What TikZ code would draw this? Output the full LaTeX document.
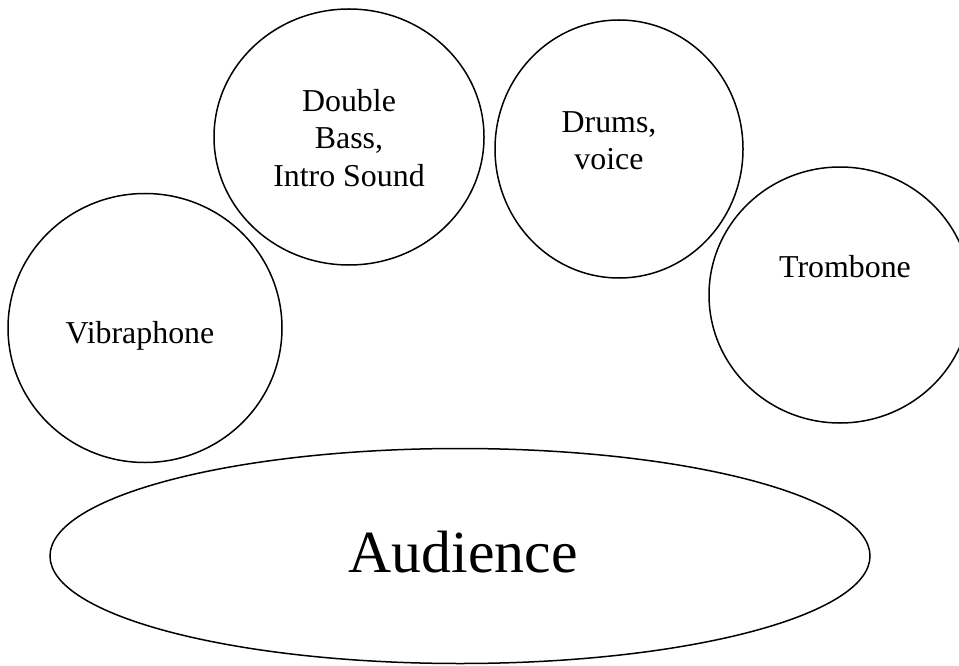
\documentclass[tikz,border=0pt]{standalone}
\usepackage{fontspec}
\setmainfont{Liberation Serif}
\usetikzlibrary{shapes.geometric}
\begin{document}
\begin{tikzpicture}[x=1bp,y=-1bp,
  stagering/.style={draw=black, line width=1.5bp, ellipse, inner sep=0pt},
  lbl/.style={font=\fontsize{32}{37.5}\selectfont, align=center, inner sep=0pt},
  biglbl/.style={font=\fontsize{60}{70}\selectfont, inner sep=0pt}]
\useasboundingbox (0,0) rectangle (959,666);
% rings
\node[stagering, minimum width=274bp, minimum height=269bp] (vib) at (145,328) {};
\node[stagering, minimum width=270bp, minimum height=256bp] (bass) at (349,137) {};
\node[stagering, minimum width=248bp, minimum height=258bp] (drums) at (619,149) {};
\node[stagering, minimum width=262bp, minimum height=256bp] (tromb) at (840,295) {};
\node[stagering, minimum width=820bp, minimum height=215bp] (aud) at (460,556) {};
% labels
\node[lbl] (vibt) at (140,335.5) {Vibraphone};
\node[lbl] (basst) at (349,138) {Double\\Bass,\\Intro Sound};
\node[lbl] (drumst) at (609,140.5) {Drums,\\voice};
\node[lbl] (trombt) at (845,267) {Trombone};
\node[biglbl] (audt) at (463,552.5) {Audience};
\end{tikzpicture}
\end{document}
